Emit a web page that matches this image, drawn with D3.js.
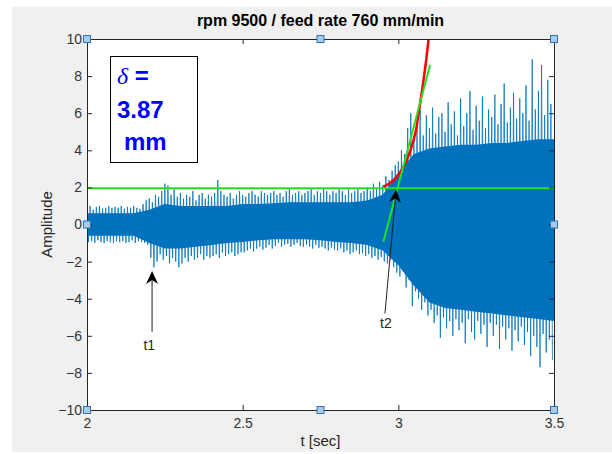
<!DOCTYPE html>
<html>
<head>
<meta charset="utf-8">
<script src="https://cdn.jsdelivr.net/npm/d3@7/dist/d3.min.js"></script>
<style>
  body { margin: 0; background: #fff; }
  text { font-family: "Liberation Sans", Arial, sans-serif; }
</style>
</head>
<body>
<script>
// signal: one peak and one trough every 0.01 s from t = 2.00
var tStart = 2.0;
var dt = 0.01;
var upper = [
  0.9, 1.0, 0.8, 0.95, 1.0, 0.85, 0.9, 1.0, 0.9, 0.95,
  0.9, 1.0, 0.85, 0.95, 0.9, 1.0, 0.9, 0.85, 1.1, 1.3,
  1.4, 1.2, 1.6, 1.5, 1.8, 2.2, 2.1, 1.6, 1.9, 1.5,
  1.7, 1.4, 1.6, 1.5, 1.8, 1.3, 1.6, 1.7, 1.4, 1.6,
  1.5, 1.7, 2.4, 1.8, 1.6, 1.5, 1.7, 1.4, 1.6, 1.8,
  1.6, 1.5, 1.7, 1.8, 1.6, 1.5, 1.8, 1.7, 1.6, 1.7,
  1.8, 1.6, 1.7, 1.5, 1.8, 1.9, 1.6, 1.7, 1.8, 1.6,
  1.7, 1.8, 1.9, 1.6, 1.8, 1.7, 1.9, 1.8, 1.6, 1.8,
  1.7, 1.9, 1.8, 1.6, 1.9, 1.7, 1.8, 1.9, 1.7, 1.8,
  2.0, 1.8, 2.2, 1.9, 2.3, 2.1, 2.6, 2.4, 2.9, 3.2,
  3.4, 4.0, 3.8, 5.2, 6.0, 4.6, 5.5, 6.2, 4.8, 5.9,
  5.2, 6.3, 4.9, 5.8, 6.0, 5.0, 6.6, 5.4, 6.1, 4.8,
  6.8, 5.3, 6.0, 7.2, 5.1, 6.4, 5.6, 6.9, 5.2, 6.2,
  5.8, 7.0, 5.4, 6.5, 7.6, 5.5, 6.3, 7.1, 5.7, 6.8,
  6.0, 7.5, 5.6, 8.9, 6.2, 7.2, 8.6, 5.9, 7.8, 6.5
];
var lower = [
  -0.95, -0.9, -1.0, -0.85, -0.95, -1.0, -0.9, -0.95, -1.0, -0.9,
  -0.95, -0.9, -1.0, -0.95, -0.85, -1.0, -0.9, -0.95, -1.0, -1.1,
  -1.8, -2.3, -2.0, -1.6, -1.9, -1.7, -2.1, -1.8, -2.0, -2.3,
  -2.1, -1.8, -2.0, -1.7, -1.9, -1.8, -1.6, -1.9, -1.7, -1.8,
  -1.7, -1.6, -1.8, -1.5, -1.7, -1.6, -1.5, -1.7, -1.6, -1.5,
  -1.5, -1.4, -1.3, -1.45, -1.3, -1.2, -1.35, -1.25, -1.1, -1.3,
  -1.15, -1.0, -1.2, -1.1, -1.05, -1.2, -1.1, -1.0, -1.15, -1.2,
  -1.1, -1.2, -1.3, -1.1, -1.25, -1.2, -1.3, -1.4, -1.25, -1.35,
  -1.4, -1.3, -1.5, -1.4, -1.6, -1.5, -1.4, -1.6, -1.55, -1.7,
  -1.6, -1.8, -1.7, -1.9, -1.75, -2.0, -2.1, -1.9, -2.3, -2.6,
  -2.8, -2.5, -3.4, -3.0, -4.4, -3.6, -4.0, -4.6, -4.2, -4.9,
  -4.6, -5.3, -4.9, -6.1, -5.0, -5.6, -5.2, -6.0, -5.1, -5.7,
  -5.3, -6.4, -5.1, -5.8, -6.2, -5.2, -5.9, -5.4, -6.6, -5.3,
  -6.0, -5.4, -6.7, -5.5, -6.2, -5.6, -6.8, -5.7, -6.3, -5.5,
  -6.5, -5.8, -7.1, -6.0, -6.6, -7.7, -5.9, -6.9, -6.2, -7.3
];

// solid core of the trace (where lines are too dense to separate), every 0.05 s
var coreT = [2.00, 2.05, 2.10, 2.15, 2.20, 2.25, 2.30, 2.35, 2.40, 2.45, 2.50, 2.55, 2.60, 2.65, 2.70, 2.75,
             2.80, 2.85, 2.90, 2.95, 3.00, 3.05, 3.10, 3.15, 3.20, 3.25, 3.30, 3.35, 3.40, 3.45, 3.50];
var coreUpper = [0.6, 0.6, 0.6, 0.6, 0.8, 1.1, 1.0, 1.0, 1.0, 1.0, 1.1, 1.1, 1.15, 1.2, 1.2, 1.2,
                 1.2, 1.2, 1.3, 1.6, 2.8, 3.8, 4.1, 4.2, 4.3, 4.3, 4.4, 4.4, 4.5, 4.6, 4.6];
var coreLower = [-0.6, -0.6, -0.6, -0.6, -1.0, -1.3, -1.3, -1.2, -1.1, -1.0, -0.95, -0.85, -0.8, -0.8, -0.8, -0.85,
                 -0.95, -1.0, -1.1, -1.4, -2.2, -3.3, -4.2, -4.5, -4.6, -4.7, -4.8, -4.9, -5.0, -5.1, -5.2];

// fitted exponential (red) and its tangent (green)
var fitT = [2.952, 2.975, 2.995, 3.012, 3.027, 3.04, 3.049, 3.058, 3.065, 3.073, 3.081, 3.089, 3.097, 3.103];
var fitY = [2.04, 2.25, 2.58, 2.98, 3.48, 4.05, 4.56, 5.2, 6.0, 6.85, 7.79, 8.8, 9.95, 10.8];
var tangentT = [2.952, 3.102];
var tangentY = [-0.93, 8.6];
var threshold = 1.95;

var xTicks = [2, 2.5, 3, 3.5];
var yTicks = [-10, -8, -6, -4, -2, 0, 2, 4, 6, 8, 10];

var W = 612, H = 454;
var pL = 87, pR = 554, pT = 39, pB = 410;

var svg = d3.select("body").append("svg")
    .attr("width", W)
    .attr("height", H);

// grey figure background
svg.append("rect")
    .attr("x", 12).attr("y", 7)
    .attr("width", W - 12).attr("height", 445)
    .attr("fill", "#f0f0f0");

var x = d3.scaleLinear().domain([2, 3.5]).range([pL, pR]);
var y = d3.scaleLinear().domain([-10, 10]).range([pB, pT]);

svg.append("rect")
    .attr("x", pL).attr("y", pT)
    .attr("width", pR - pL).attr("height", pB - pT)
    .attr("fill", "#fff");

svg.append("clipPath").attr("id", "clip")
  .append("rect")
    .attr("x", pL).attr("y", pT)
    .attr("width", pR - pL).attr("height", pB - pT);

var plot = svg.append("g").attr("clip-path", "url(#clip)");

// dense core as a band
var area = d3.area()
    .x(function(d, i) { return x(coreT[i]); })
    .y0(function(d, i) { return y(coreLower[i]); })
    .y1(function(d, i) { return y(coreUpper[i]); });

plot.append("path")
    .datum(coreT)
    .attr("d", area)
    .attr("fill", "#0072bd");

// zigzag peak -> trough
var signal = [];
for (var i = 0; i < upper.length; i++) {
    signal.push([tStart + i * dt, upper[i]]);
    signal.push([tStart + i * dt + dt / 2, lower[i]]);
}

var line = d3.line()
    .x(function(d) { return x(d[0]); })
    .y(function(d) { return y(d[1]); });

plot.append("path")
    .datum(signal)
    .attr("d", line)
    .attr("fill", "none")
    .attr("stroke", "#0072bd")
    .attr("stroke-width", 0.8);

// threshold line
plot.append("path")
    .datum([[2, threshold], [3.5, threshold]])
    .attr("d", line)
    .attr("stroke", "#22e022")
    .attr("stroke-width", 2);

// exponential fit
plot.append("path")
    .datum(fitT.map(function(t, i) { return [t, fitY[i]]; }))
    .attr("d", line.curve(d3.curveMonotoneX))
    .attr("fill", "none")
    .attr("stroke", "#ff0000")
    .attr("stroke-width", 2.5);
line.curve(d3.curveLinear);

// tangent
plot.append("path")
    .datum(tangentT.map(function(t, i) { return [t, tangentY[i]]; }))
    .attr("d", line)
    .attr("stroke", "#22e022")
    .attr("stroke-width", 2);

// axes, ticks pointing in
var axisColor = "#262626";
function styleAxis(g) {
    g.select(".domain").attr("stroke", axisColor);
    g.selectAll(".tick line").attr("stroke", axisColor);
    g.selectAll(".tick text").attr("fill", "#333").attr("font-size", "14px")
        .attr("font-family", "Liberation Sans, Arial, sans-serif");
}

svg.append("g")
    .attr("transform", "translate(0," + pB + ")")
    .call(d3.axisBottom(x).tickValues(xTicks).tickFormat(d3.format("")).tickSizeInner(-5).tickSizeOuter(0).tickPadding(8))
    .call(styleAxis);

svg.append("g")
    .attr("transform", "translate(0," + pT + ")")
    .call(d3.axisTop(x).tickValues(xTicks).tickFormat("").tickSizeInner(-5).tickSizeOuter(0))
    .call(styleAxis);

svg.append("g")
    .attr("transform", "translate(" + pL + ",0)")
    .call(d3.axisLeft(y).tickValues(yTicks).tickSizeInner(-5).tickSizeOuter(0).tickPadding(5))
    .call(styleAxis);

svg.append("g")
    .attr("transform", "translate(" + pR + ",0)")
    .call(d3.axisRight(y).tickValues(yTicks).tickFormat("").tickSizeInner(-5).tickSizeOuter(0))
    .call(styleAxis);

// title and labels
svg.append("text")
    .attr("x", (pL + pR) / 2).attr("y", 26)
    .attr("text-anchor", "middle")
    .attr("font-size", "16px").attr("font-weight", "bold")
    .attr("fill", "#000")
    .text("rpm 9500 / feed rate 760 mm/min");

svg.append("text")
    .attr("x", (pL + pR) / 2).attr("y", 446)
    .attr("text-anchor", "middle")
    .attr("font-size", "15px").attr("fill", "#262626")
    .text("t [sec]");

svg.append("text")
    .attr("transform", "translate(52," + (pT + pB) / 2 + ") rotate(-90)")
    .attr("text-anchor", "middle")
    .attr("font-size", "15px").attr("fill", "#262626")
    .text("Amplitude");

// delta text box
svg.append("rect")
    .attr("x", 110.5).attr("y", 56.5)
    .attr("width", 87).attr("height", 106)
    .attr("fill", "#fff").attr("stroke", "#000");

var box = svg.append("text")
    .attr("fill", "#0000ff")
    .attr("font-size", "24px").attr("font-weight", "bold");
var l1 = box.append("tspan").attr("x", 117).attr("y", 84);
l1.append("tspan").attr("font-style", "italic").attr("font-weight", "normal")
    .attr("font-family", "Liberation Serif, Times New Roman, serif").text("δ");
l1.append("tspan").text(" =");
box.append("tspan").attr("x", 117).attr("y", 118).text("3.87");
box.append("tspan").attr("x", 124).attr("y", 150).text("mm");

// arrows (data units)
function arrow(t0, v0, t1, v1, label, lx, ly) {
    var x0 = x(t0), y0 = y(v0), x1 = x(t1), y1 = y(v1);
    var a = Math.atan2(y1 - y0, x1 - x0);
    var len = 13, wid = 6, notch = 9;
    var ux = Math.cos(a), uy = Math.sin(a);
    var px = -uy, py = ux;
    svg.append("line")
        .attr("x1", x0).attr("y1", y0)
        .attr("x2", x1 - ux * notch).attr("y2", y1 - uy * notch)
        .attr("stroke", "#222").attr("stroke-width", 1);
    var pts = [
        [x1, y1],
        [x1 - ux * len + px * wid, y1 - uy * len + py * wid],
        [x1 - ux * notch, y1 - uy * notch],
        [x1 - ux * len - px * wid, y1 - uy * len - py * wid]
    ];
    svg.append("path")
        .attr("d", "M" + pts.join("L") + "Z")
        .attr("fill", "#000");
    svg.append("text")
        .attr("x", x(lx)).attr("y", y(ly))
        .attr("text-anchor", "middle")
        .attr("font-size", "14px").attr("fill", "#262626")
        .text(label);
}
arrow(2.209, -5.78, 2.209, -2.5, "t1", 2.2, -6.75);
arrow(2.957, -4.8, 2.993, 1.88, "t2", 2.96, -5.6);

// edit handles
var handles = [[2, 10], [2.75, 10], [3.5, 10], [2, 0], [3.5, 0], [2, -10], [2.75, -10], [3.5, -10]];
svg.selectAll("rect.handle")
    .data(handles)
    .enter().append("rect")
    .attr("class", "handle")
    .attr("x", function(d) { return x(d[0]) - 3.5; })
    .attr("y", function(d) { return y(d[1]) - 3.5; })
    .attr("width", 7).attr("height", 7)
    .attr("fill", "#a9cbe8")
    .attr("stroke", "#2f73b3").attr("stroke-width", 1);
</script>
</body>
</html>
